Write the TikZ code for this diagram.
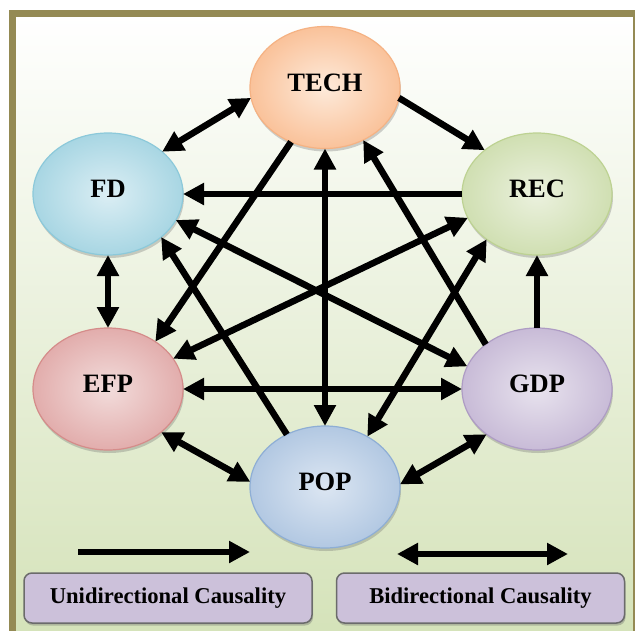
\documentclass[tikz,border=0pt]{standalone}
\usepackage{fontspec}
\setmainfont{Liberation Serif}
\usepackage{tikz}
\usetikzlibrary{positioning, arrows.meta, shapes.geometric, shadows}
\definecolor{frameOlive}{HTML}{948A54}
\definecolor{bgGreen}{HTML}{D4E2B8}
\definecolor{techL}{HTML}{FDEADA}
\definecolor{techD}{HTML}{FAC29A}
\definecolor{techB}{HTML}{F5B283}
\definecolor{fdL}{HTML}{DBEEF4}
\definecolor{fdD}{HTML}{A8D6E3}
\definecolor{fdB}{HTML}{8CC9DA}
\definecolor{recL}{HTML}{EBF1DE}
\definecolor{recD}{HTML}{D0DFB2}
\definecolor{recB}{HTML}{BDD292}
\definecolor{efpL}{HTML}{F2DCDB}
\definecolor{efpD}{HTML}{E2ADAC}
\definecolor{efpB}{HTML}{D58C8A}
\definecolor{gdpL}{HTML}{E8E3EE}
\definecolor{gdpD}{HTML}{C8BBD7}
\definecolor{gdpB}{HTML}{AE9CC4}
\definecolor{popL}{HTML}{DCE6F2}
\definecolor{popD}{HTML}{B2C8E2}
\definecolor{popB}{HTML}{8EAED5}
\definecolor{legF}{HTML}{CCC1DA}
\definecolor{legB}{HTML}{6B6B6B}

\begin{document}
\begin{tikzpicture}[x=1pt, y=-1pt, var/.style={ellipse, draw, line width=1.2pt, minimum width=150pt, minimum height=122pt, inner sep=0pt, outer sep=0pt, text depth=10pt, font=\fontsize{26.5}{30}\selectfont\bfseries, drop shadow={shadow xshift=1pt, shadow yshift=-3pt, fill=black!60, opacity=0.3}},uni/.style={-{Triangle[length=21pt, width=21pt]}, line width=6.5pt},bi/.style={{Triangle[length=21pt, width=21pt]}-{Triangle[length=21pt, width=21pt]}, line width=6.5pt},leg/.style={rounded corners=8pt, draw=legB, fill=legF, line width=1.5pt, minimum width=288pt, minimum height=50pt, font=\fontsize{22.6}{26}\selectfont\bfseries, drop shadow={shadow xshift=1pt, shadow yshift=-2.5pt, fill=black!60, opacity=0.35}}]
\useasboundingbox (0,0) rectangle (635,630);
\draw[line width=7pt, draw=frameOlive, top color=white, bottom color=bgGreen] (12.5,13) rectangle (636.5,645);
\node[var, inner color=techL, outer color=techD, draw=techB] (tech) at (325,87.5) {TECH};
\node[var, inner color=fdL, outer color=fdD, draw=fdB] (fd) at (108,194) {FD};
\node[var, inner color=recL, outer color=recD, draw=recB] (rec) at (537,194) {REC};
\node[var, inner color=efpL, outer color=efpD, draw=efpB] (efp) at (108,389) {EFP};
\node[var, inner color=gdpL, outer color=gdpD, draw=gdpB] (gdp) at (537,389) {GDP};
\node[var, inner color=popL, outer color=popD, draw=popB] (pop) at (325,487) {POP};
\draw[uni] (tech.352) -- (rec.140);
\draw[uni] (rec.180) -- (fd.0);
\draw[uni] (tech.238) -- (efp.45);
\draw[uni] (pop.126) -- (fd.321);
\draw[uni] (gdp.139) -- (tech.306);
\draw[uni] (gdp.90) -- (rec.270);
\draw[bi] (fd.38) -- (tech.188);
\draw[bi] (fd.270) -- (efp.90);
\draw[bi] (tech.270) -- (pop.90);
\draw[bi] (efp.25) -- (rec.199);
\draw[bi] (fd.339) -- (gdp.162);
\draw[bi] (rec.222) -- (pop.50);
\draw[bi] (efp.0) -- (gdp.180);
\draw[bi] (efp.321) -- (pop.176);
\draw[bi] (gdp.222) -- (pop.2);
\coordinate (u1) at (78,552); \coordinate (u2) at (250,552);
\coordinate (b1) at (397,554); \coordinate (b2) at (568,554);
\draw[uni] (u1) -- (u2);
\draw[bi] (b1) -- (b2);
\node[leg] (uk) at (168,598) {Unidirectional Causality};
\node[leg] (bk) at (480.5,598) {Bidirectional Causality};
\end{tikzpicture}
\end{document}
